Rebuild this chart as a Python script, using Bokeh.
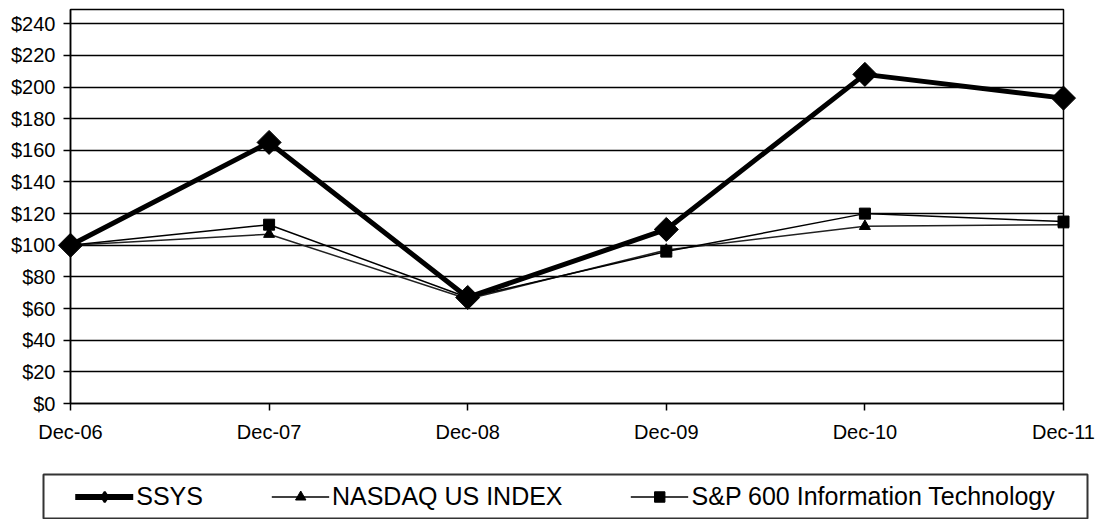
from bokeh.plotting import figure
from bokeh.models import (Range1d, FixedTicker, NumeralTickFormatter, Legend, LegendItem)
from bokeh.layouts import column
from bokeh.embed import file_html
from bokeh.resources import INLINE
import math

categories = ["Dec-06", "Dec-07", "Dec-08", "Dec-09", "Dec-10", "Dec-11"]
ssys = [100, 165, 67, 110, 208, 193]
nasdaq = [100, 107, 66, 97, 112, 113]
sp600_it = [100, 113, 67, 96, 120, 115]
y_ticks = list(range(0, 241, 20))

x = list(range(len(categories)))
FONT = "Liberation Sans, Arial, sans-serif"

p = figure(width=1102, height=465, output_backend="svg", toolbar_location=None,
           x_range=Range1d(0, len(categories) - 1), y_range=Range1d(0, 249),
           min_border_left=70, min_border_right=39, min_border_top=9, min_border_bottom=62,
           frame_align=False)
p.outline_line_color = "black"
p.outline_line_width = 1.5

# axes
p.xaxis.ticker = FixedTicker(ticks=x)
p.xaxis.major_label_overrides = {i: c for i, c in zip(x, categories)}
p.yaxis.ticker = FixedTicker(ticks=y_ticks)
p.yaxis.formatter = NumeralTickFormatter(format="$0")
for ax in (p.xaxis, p.yaxis):
    ax.axis_line_color = "black"
    ax.axis_line_width = 1.5
    ax.major_tick_line_color = "black"
    ax.major_tick_line_width = 1.5
    ax.major_tick_in = 0
    ax.major_tick_out = 7
    ax.minor_tick_line_color = None
    ax.major_label_text_font = FONT
    ax.major_label_text_font_size = "20px"
    ax.major_label_text_color = "black"
p.yaxis.major_label_standoff = 8
p.xaxis.major_label_standoff = 10

p.xgrid.grid_line_color = None
p.ygrid.ticker = FixedTicker(ticks=y_ticks)
p.ygrid.grid_line_color = "black"
p.ygrid.grid_line_width = 1.5
p.ygrid.grid_line_alpha = 1.0

# series
p.line(x, nasdaq, line_color="#222222", line_width=1.5)
p.line(x, sp600_it, line_color="black", line_width=1.5)
p.scatter(x, nasdaq, marker="triangle", size=11, fill_color="black", line_color="black",
          level="overlay")
p.scatter(x, sp600_it, marker="square", size=11, fill_color="black", line_color="black",
          level="overlay")
p.line(x, ssys, line_color="black", line_width=5, level="overlay")
p.scatter(x, ssys, marker="square", angle=math.pi / 4, size=17, fill_color="black",
          line_color="black", level="overlay")

# legend panel (boxed)
L = figure(width=1102, height=54, output_backend="svg", toolbar_location=None,
           x_range=Range1d(0, 1), y_range=Range1d(0, 1),
           x_axis_location=None, y_axis_location=None,
           min_border_left=43, min_border_right=15, min_border_top=9, min_border_bottom=1,
           frame_align=False)
L.outline_line_color = "#333333"
L.outline_line_width = 2
L.xgrid.visible = False
L.ygrid.visible = False

nan = [float("nan")]
l1 = L.line(nan, nan, line_color="black", line_width=6, line_cap="round")
m1 = L.scatter(nan, nan, marker="diamond", fill_color="black", line_color="black", line_width=2)
l2 = L.line(nan, nan, line_color="black", line_width=1.5)
m2 = L.scatter(nan, nan, marker="triangle", fill_color="black", line_color="black")
l3 = L.line(nan, nan, line_color="black", line_width=1.5)
m3 = L.scatter(nan, nan, marker="square", fill_color="black", line_color="black")

legend = Legend(items=[LegendItem(label="SSYS", renderers=[l1, m1]),
                       LegendItem(label="NASDAQ US INDEX", renderers=[l2, m2]),
                       LegendItem(label="S&P 600 Information Technology", renderers=[l3, m3])],
                orientation="horizontal", location="center",
                glyph_width=58, glyph_height=26, label_standoff=3, spacing=68,
                padding=0, margin=0, border_line_color=None, background_fill_alpha=0,
                label_text_font=FONT, label_text_font_size="25px", label_text_color="black")
L.add_layout(legend, "center")

layout = column(p, L, spacing=0)
open("out.html", "w").write(file_html(layout, INLINE))
